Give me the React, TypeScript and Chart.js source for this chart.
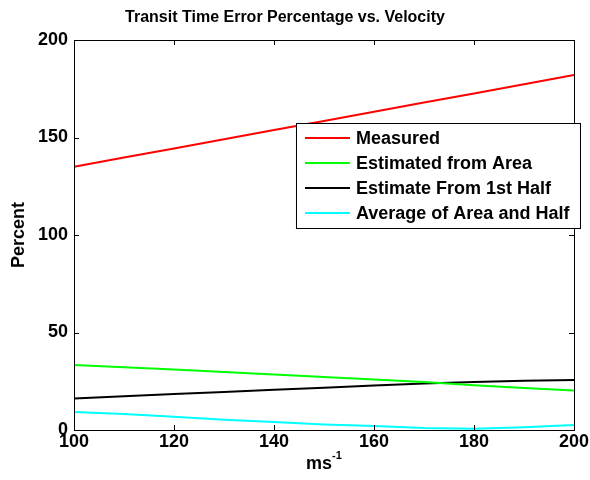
import React, { useEffect, useRef } from "react";
import { Chart, registerables } from "chart.js";

Chart.register(...registerables);

const velocities = [100, 110, 120, 130, 140, 150, 160, 170, 180, 190, 200];
const measured = [135, 139.7, 144.4, 149.1, 153.8, 158.5, 163.2, 167.9, 172.6, 177.3, 182];
const estimatedFromArea = [33.3, 32.2, 31.0, 29.8, 28.5, 27.2, 25.9, 24.6, 23.0, 21.6, 20.2];
const estimateFromFirstHalf = [16.2, 17.3, 18.4, 19.5, 20.6, 21.7, 22.8, 23.8, 24.6, 25.2, 25.7];
const averageAreaHalf = [9.2, 8.2, 6.8, 5.3, 4.1, 2.8, 2.0, 1.0, 0.7, 1.4, 2.6];

const seriesLabels = ["Measured", "Estimated from Area", "Estimate From 1st Half", "Average of Area and Half"];
const seriesColors = ["#ff0000", "#00ff00", "#000000", "#00ffff"];

const titleText = "Transit Time Error Percentage vs. Velocity";
const yTitle = "Percent";
const xTitleBase = "ms";
const xTitleSup = "-1";

const FONT = "'Liberation Sans', Arial, Helvetica, sans-serif";

const matlabPlugin = {
  id: "matlabDecor",
  afterDatasetsDraw(chart: any) {
    const { ctx, chartArea } = chart;
    const { left, right, top, bottom } = chartArea;
    const xs = chart.scales.x;
    const ys = chart.scales.y;
    ctx.save();
    // frame
    ctx.strokeStyle = "#000";
    ctx.lineWidth = 1;
    ctx.strokeRect(Math.round(left) + 0.5, Math.round(top) + 0.5, Math.round(right - left), Math.round(bottom - top));
    // inward ticks
    const tl = 5;
    ctx.beginPath();
    xs.ticks.forEach((t: any) => {
      const px = Math.round(xs.getPixelForValue(t.value)) + 0.5;
      ctx.moveTo(px, bottom);
      ctx.lineTo(px, bottom - tl);
      ctx.moveTo(px, top);
      ctx.lineTo(px, top + tl);
    });
    ys.ticks.forEach((t: any) => {
      const py = Math.round(ys.getPixelForValue(t.value)) + 0.5;
      ctx.moveTo(left, py);
      ctx.lineTo(left + tl, py);
      ctx.moveTo(right, py);
      ctx.lineTo(right - tl, py);
    });
    ctx.stroke();

    // legend
    const lx = right - 278;
    const ly = top + 83;
    const lw = 284;
    const lh = 105;
    ctx.fillStyle = "#fff";
    ctx.fillRect(lx, ly, lw, lh);
    ctx.strokeStyle = "#000";
    ctx.strokeRect(lx + 0.5, ly + 0.5, lw, lh);
    ctx.font = `bold 18px ${FONT}`;
    ctx.textBaseline = "middle";
    ctx.textAlign = "left";
    chart.data.datasets.forEach((ds: any, i: number) => {
      const cy = ly + 15 + i * 25;
      ctx.strokeStyle = ds.borderColor;
      ctx.lineWidth = 2;
      ctx.beginPath();
      ctx.moveTo(lx + 9, cy);
      ctx.lineTo(lx + 54, cy);
      ctx.stroke();
      ctx.fillStyle = "#000";
      ctx.fillText(ds.label, lx + 60, cy + 1);
    });

    // title
    ctx.fillStyle = "#000";
    ctx.textAlign = "center";
    ctx.textBaseline = "middle";
    ctx.font = `bold 16px ${FONT}`;
    ctx.fillText(titleText, 285, 18);

    // y title
    ctx.save();
    ctx.translate(19, (top + bottom) / 2);
    ctx.rotate(-Math.PI / 2);
    ctx.font = `bold 18px ${FONT}`;
    ctx.fillText(yTitle, 0, 0);
    ctx.restore();

    // x title with superscript
    ctx.font = `bold 18px ${FONT}`;
    const wBase = ctx.measureText(xTitleBase).width;
    ctx.font = `bold 11px ${FONT}`;
    const wSup = ctx.measureText(xTitleSup).width;
    const startX = (left + right) / 2 - (wBase + wSup) / 2;
    ctx.textAlign = "left";
    ctx.textBaseline = "alphabetic";
    ctx.font = `bold 18px ${FONT}`;
    ctx.fillText(xTitleBase, startX, 469);
    ctx.font = `bold 11px ${FONT}`;
    ctx.fillText(xTitleSup, startX + wBase, 459);
    ctx.restore();
  },
};

export default function App() {
  const canvasRef = useRef<HTMLCanvasElement>(null);
  useEffect(() => {
    document.body.style.margin = "0";
    const canvas = canvasRef.current!;
    const chart = new Chart(canvas, {
      type: "line",
      data: {
        labels: velocities,
        datasets: [measured, estimatedFromArea, estimateFromFirstHalf, averageAreaHalf].map((vals, i) => ({
          label: seriesLabels[i],
          data: velocities.map((v, j) => ({ x: v, y: vals[j] })),
          borderColor: seriesColors[i],
          backgroundColor: seriesColors[i],
          borderWidth: 2,
          pointRadius: 0,
          tension: 0,
          fill: false,
        })),
      },
      options: {
        animation: false,
        responsive: false,
        layout: { padding: { top: 40, right: 15, left: 0, bottom: 0 } },
        plugins: { legend: { display: false }, title: { display: false }, tooltip: { enabled: false } },
        scales: {
          x: {
            type: "linear",
            min: 100,
            max: 200,
            ticks: { stepSize: 20, color: "#000", font: { family: FONT, size: 18, weight: "bold" }, padding: 1, maxRotation: 0 },
            grid: { display: false, drawTicks: false },
            border: { display: false },
            afterFit: (s: any) => { s.height = 50; },
          },
          y: {
            min: 0,
            max: 200,
            ticks: { stepSize: 50, color: "#000", font: { family: FONT, size: 18, weight: "bold" }, padding: 6 },
            grid: { display: false, drawTicks: false },
            border: { display: false },
            afterFit: (s: any) => { s.width = 74; },
          },
        },
      },
      plugins: [matlabPlugin],
    });
    return () => chart.destroy();
  }, []);
  return (
    <div style={{ position: "absolute", left: 0, top: 0, width: 590, height: 480, background: "#fff" }}>
      <canvas ref={canvasRef} width={590} height={480} />
    </div>
  );
}
